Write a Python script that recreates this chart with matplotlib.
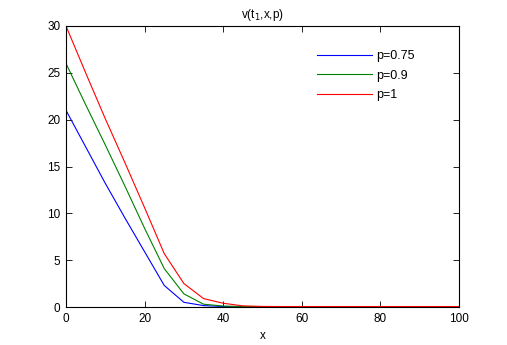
import matplotlib
matplotlib.use("Agg")
import matplotlib.pyplot as plt

x = [0, 5, 10, 15, 20, 25, 30, 35, 40, 45, 50, 55, 60, 65, 70, 75, 80, 85, 90, 95, 100]
v_075 = [21.0, 17.1, 13.2, 9.5, 5.9, 2.3, 0.5, 0.15, 0.05, 0.02, 0.01, 0.01, 0.01, 0.01, 0.01, 0.01, 0.01, 0.01, 0.01, 0.01, 0.01]
v_09 = [26.0, 21.6, 17.3, 12.9, 8.4, 4.1, 1.4, 0.3, 0.1, 0.05, 0.03, 0.02, 0.02, 0.02, 0.02, 0.02, 0.02, 0.02, 0.02, 0.02, 0.02]
v_1 = [30.0, 25.0, 20.1, 15.4, 10.6, 5.7, 2.5, 0.9, 0.4, 0.12, 0.06, 0.05, 0.05, 0.05, 0.05, 0.05, 0.05, 0.05, 0.05, 0.05, 0.05]
labels = ["p=0.75", "p=0.9", "p=1"]
colors = ["#0000ff", "#008000", "#ff0000"]

plt.rcParams['font.family'] = ['Liberation Sans', 'DejaVu Sans']
fig = plt.figure(figsize=(5.07, 3.45), dpi=100)
ax = fig.add_axes([66/507, 1-307/345, (459-66)/507, (307-26)/345])
for y, lab, c in zip([v_075, v_09, v_1], labels, colors):
    ax.plot(x, y, color=c, lw=0.8, label=lab)
ax.set_xlim(0, 100)
ax.set_ylim(0, 30)
ax.set_xticks([0, 20, 40, 60, 80, 100])
ax.set_yticks([0, 5, 10, 15, 20, 25, 30])
ax.tick_params(direction='in', top=True, right=True, labelsize=8.5, length=4, width=0.6, pad=4)
for s in ax.spines.values():
    s.set_linewidth(0.8)
ax.set_xlabel("x", fontsize=8.5, labelpad=4)
ax.set_title(r"v(t$_1$,x,p)", fontsize=8.5, pad=6)
leg = ax.legend(loc='upper left', bbox_to_anchor=(0.639, 0.915), frameon=False, fontsize=9,
                handlelength=4.4, handletextpad=0.32, labelspacing=0.62,
                borderaxespad=0, borderpad=0)
fig.savefig("out.png", dpi=100)
